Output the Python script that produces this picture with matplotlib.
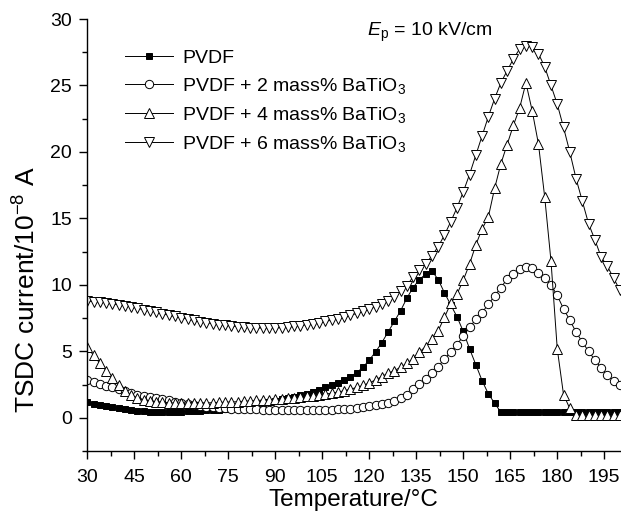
import numpy as np
import matplotlib
matplotlib.use("Agg")
import matplotlib.pyplot as plt
from matplotlib.ticker import MultipleLocator

plt.rcParams['font.family'] = ['Liberation Sans', 'DejaVu Sans']
plt.rcParams['mathtext.fontset'] = 'custom'
plt.rcParams['mathtext.rm'] = 'Liberation Sans'
plt.rcParams['mathtext.it'] = 'Liberation Sans:italic'
plt.rcParams['mathtext.bf'] = 'Liberation Sans:bold'

# temperatures, 2 degC steps
temperature = np.arange(30, 201, 2)

# PVDF
pvdf = [1.15, 1.05, 0.95, 0.86, 0.78, 0.70, 0.63, 0.57, 0.52, 0.49,
        0.47, 0.45, 0.44, 0.44, 0.45, 0.46, 0.48, 0.50, 0.52, 0.55,
        0.58, 0.62, 0.66, 0.71, 0.77, 0.84, 0.91, 0.99, 1.08, 1.18,
        1.29, 1.40, 1.50, 1.60, 1.70, 1.82, 1.96, 2.12, 2.30, 2.48,
        2.65, 2.85, 3.10, 3.40, 3.80, 4.35, 4.95, 5.65, 6.45, 7.25,
        8.05, 9.00, 9.80, 10.40, 10.80, 11.05, 10.40, 9.40, 8.50, 7.60,
        6.50, 5.20, 4.00, 2.80, 1.80, 1.10,
        0.42, 0.42, 0.42, 0.42, 0.42, 0.42, 0.42, 0.42, 0.42, 0.42,
        0.42, 0.42, 0.42, 0.42, 0.42, 0.42, 0.42, 0.42, 0.42, 0.42]

# PVDF + 2 mass% BaTiO3
bt2 = [2.85, 2.70, 2.55, 2.42, 2.28, 2.15, 2.00, 1.88, 1.72, 1.62,
       1.55, 1.48, 1.40, 1.30, 1.20, 1.12, 1.05, 0.98, 0.90, 0.84,
       0.78, 0.74, 0.71, 0.69, 0.67, 0.65, 0.64, 0.63, 0.62, 0.61,
       0.61, 0.60, 0.60, 0.60, 0.60, 0.60, 0.60, 0.60, 0.61, 0.62,
       0.63, 0.65, 0.68, 0.72, 0.78, 0.85, 0.93, 1.02, 1.13, 1.27,
       1.45, 1.73, 2.15, 2.55, 2.95, 3.40, 3.85, 4.43, 4.97, 5.50,
       6.15, 6.80, 7.40, 7.90, 8.55, 9.15, 9.80, 10.42, 10.85, 11.20,
       11.35, 11.25, 10.92, 10.50, 10.00, 9.20, 8.20, 7.35, 6.45, 5.70,
       5.00, 4.35, 3.75, 3.20, 2.80, 2.45]

# PVDF + 4 mass% BaTiO3
bt4 = [5.30, 4.70, 4.10, 3.55, 3.00, 2.50, 2.05, 1.72, 1.50, 1.36,
       1.26, 1.20, 1.16, 1.13, 1.11, 1.10, 1.10, 1.10, 1.11, 1.12,
       1.13, 1.15, 1.17, 1.19, 1.21, 1.24, 1.27, 1.30, 1.33, 1.37,
       1.40, 1.44, 1.48, 1.52, 1.57, 1.62, 1.67, 1.72, 1.78, 1.85,
       1.93, 2.03, 2.15, 2.28, 2.43, 2.62, 2.85, 3.10, 3.35, 3.55,
       3.80, 4.10, 4.45, 4.95, 5.35, 5.90, 6.55, 7.55, 8.60, 9.30,
       10.35, 11.55, 13.00, 14.20, 15.10, 17.25, 19.10, 20.55, 22.00, 23.30,
       25.20, 23.10, 20.60, 16.60, 11.80, 5.20, 1.75, 0.70,
       0.20, 0.20, 0.20, 0.20, 0.20, 0.20, 0.20, 0.20]

# PVDF + 6 mass% BaTiO3
bt6 = [8.78, 8.74, 8.70, 8.64, 8.57, 8.50, 8.42, 8.33, 8.24, 8.14,
       8.04, 7.94, 7.83, 7.72, 7.62, 7.52, 7.42, 7.33, 7.24, 7.16,
       7.08, 7.01, 6.95, 6.90, 6.85, 6.81, 6.78, 6.76, 6.75, 6.75,
       6.76, 6.78, 6.82, 6.87, 6.93, 7.00, 7.08, 7.16, 7.25, 7.35,
       7.46, 7.58, 7.71, 7.85, 8.00, 8.17, 8.36, 8.57, 8.80, 9.07,
       9.50, 9.95, 10.60, 11.10, 11.55, 12.20, 12.87, 13.75, 14.75, 15.80,
       17.00, 18.30, 19.75, 21.20, 22.65, 24.00, 25.20, 26.10, 27.00, 27.75,
       28.00, 27.90, 27.40, 26.40, 25.00, 23.60, 21.85, 20.00, 18.00, 16.30,
       14.60, 13.40, 12.10, 11.40, 10.50, 9.60]

labels = ['PVDF',
          'PVDF + 2 mass% BaTiO$_3$',
          'PVDF + 4 mass% BaTiO$_3$',
          'PVDF + 6 mass% BaTiO$_3$']

fig = plt.figure(figsize=(6.21, 5.15), dpi=100)
ax = fig.add_axes([87.3 / 621, 64 / 515, 532.6 / 621, 432 / 515])

lw = 0.7
mew = 0.7
ax.plot(temperature, pvdf, color='black', lw=lw, marker='s', ms=5.0,
        mfc='black', mec='black', mew=mew, label=labels[0])
ax.plot(temperature, bt2, color='black', lw=lw, marker='o', ms=6.0,
        mfc='white', mec='black', mew=mew, label=labels[1])
ax.plot(temperature, bt4, color='black', lw=lw, marker='^', ms=7.0,
        mfc='white', mec='black', mew=mew, label=labels[2])
ax.plot(temperature, bt6, color='black', lw=lw, marker='v', ms=7.0,
        mfc='white', mec='black', mew=mew, label=labels[3])

ax.set_xlim(30, 200)
ax.set_ylim(-2.5, 30)
ax.xaxis.set_major_locator(MultipleLocator(15))
ax.xaxis.set_minor_locator(MultipleLocator(7.5))
ax.yaxis.set_major_locator(MultipleLocator(5))
ax.yaxis.set_minor_locator(MultipleLocator(2.5))
ax.set_xticks(np.arange(30, 200, 15))

for s in ['top', 'right']:
    ax.spines[s].set_visible(False)
for s in ['left', 'bottom']:
    ax.spines[s].set_linewidth(1.0)

ax.tick_params(which='major', direction='out', length=6, width=1.0,
               labelsize=14)
ax.tick_params(which='minor', direction='out', length=3.3, width=1.0)
ax.tick_params(axis='x', which='major', pad=7)
ax.tick_params(axis='y', which='major', pad=5)

fig.text(353 / 621, 1 - 500 / 515, 'Temperature/°C', ha='center',
         va='center', fontsize=17.5)
fig.text(27 / 621, 1 - 290 / 515, 'TSDC current/10$^{-8}$ A', ha='center',
         va='center', rotation=90, fontsize=19)
fig.text(367 / 621, 1 - 32 / 515, r'$\mathit{E}_\mathrm{p}$ = 10 kV/cm',
         ha='left', va='center', fontsize=14)

ax.legend(loc='upper left', bbox_to_anchor=(125 / 621, 1 - 49 / 515),
          bbox_transform=fig.transFigure, frameon=False, fontsize=14,
          numpoints=1, handlelength=2.47, handletextpad=0.46,
          labelspacing=0.47, borderpad=0, borderaxespad=0)

fig.savefig('out.png', dpi=100)
